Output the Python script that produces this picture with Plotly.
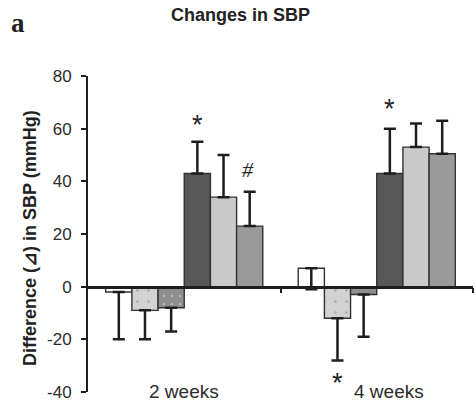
import plotly.graph_objects as go

# Groups along the x axis
categories = ["2 weeks", "4 weeks"]
group_pos = [0, 1]

# Mean change in SBP (mmHg) for each of the six groups, per time point
series_names = ["G1", "G2", "G3", "G4", "G5", "G6"]
values = {
    "G1": [-2, 7],
    "G2": [-9, -12],
    "G3": [-8, -3],
    "G4": [43, 43],
    "G5": [34, 53],
    "G6": [23, 50.5],
}
# One-sided error bars (SEM)
err_up = {
    "G1": [0, 0],
    "G2": [0, 0],
    "G3": [0, 0],
    "G4": [12, 17],
    "G5": [16, 9],
    "G6": [13, 12.5],
}
err_down = {
    "G1": [18, 8],
    "G2": [11, 16],
    "G3": [9, 16],
    "G4": [0, 0],
    "G5": [0, 0],
    "G6": [0, 0],
}

y_ticks = [-40, -20, 0, 20, 40, 60, 80]
y_ticktext = [str(v) for v in y_ticks]

styles = {
    "G1": dict(color="#ffffff"),
    "G2": dict(color="#d2d2d2", pattern=dict(shape=".", fgcolor="#7a7a7a", size=11,
                                             solidity=0.04, fillmode="overlay")),
    "G3": dict(color="#8e8e8e", pattern=dict(shape=".", fgcolor="#ffffff", size=8,
                                             solidity=0.06, fillmode="overlay")),
    "G4": dict(color="#575757"),
    "G5": dict(color="#cacaca"),
    "G6": dict(color="#9a9a9a"),
}

fig = go.Figure()
for name in series_names:
    st = styles[name]
    marker = dict(color=st["color"], line=dict(color="#333333", width=1.4))
    if "pattern" in st:
        marker["pattern"] = st["pattern"]
    fig.add_trace(go.Bar(
        x=group_pos, y=values[name], name=name, marker=marker,
        error_y=dict(type="data", symmetric=False, array=err_up[name],
                     arrayminus=err_down[name], color="#1e1e1e",
                     thickness=2.5, width=6),
        showlegend=False,
    ))

W, H = 475, 404
L, R, T, B = 88, 2, 76, 12
pw, ph = W - L - R, H - T - B


def px_x(px):
    return (px - L) / pw


def px_y(py):
    return (H - B - py) / ph


text_col = "#2b2b2b"
annotations = [
    dict(text="<b>Changes in SBP</b>", x=px_x(240), y=px_y(15), xref="paper", yref="paper",
         showarrow=False, font=dict(family="Liberation Sans", size=18, color="#222"),
         xanchor="center", yanchor="middle"),
    dict(text="<b>a</b>", x=px_x(18), y=px_y(23), xref="paper", yref="paper",
         showarrow=False, font=dict(family="Liberation Serif", size=27, color="#222"),
         xanchor="center", yanchor="middle"),
    dict(text="<b>Difference (⊿) in SBP (mmHg)</b>", x=px_x(30), y=px_y(238),
         xref="paper", yref="paper", textangle=-90, showarrow=False,
         font=dict(family="Liberation Sans", size=18, color="#222"),
         xanchor="center", yanchor="middle"),
]
# group labels under the axis
for lab, xp in zip(categories, [0.0, 1.066]):
    annotations.append(dict(text=lab, x=xp, y=-39.9, xref="x", yref="y", showarrow=False,
                            font=dict(family="Liberation Sans", size=19, color=text_col),
                            xanchor="center", yanchor="middle"))
# significance marks
for sym, xp, yp, fam, sz in [
    ("*", 0.068, 61.5, "Liberation Sans", 27),
    ("<i>#</i>", 0.33, 44.5, "Liberation Serif", 22),
    ("*", 1.068, 67.5, "Liberation Sans", 27),
    ("*", 0.796, -36.5, "Liberation Sans", 27),
]:
    annotations.append(dict(text=sym, x=xp, y=yp, xref="x", yref="y", showarrow=False,
                            font=dict(family=fam, size=sz, color="#222"),
                            xanchor="center", yanchor="middle"))

fig.update_layout(
    width=W, height=H,
    margin=dict(l=L, r=R, t=T, b=B, pad=0),
    paper_bgcolor="white", plot_bgcolor="white",
    barmode="group", bargap=0.184, bargroupgap=0,
    annotations=annotations,
    xaxis=dict(range=[-0.5, 1.5], anchor="free", position=40 / 120,
               showline=True, linecolor="#1e1e1e", linewidth=2.5,
               tickvals=[0.5, 1.5], ticks="outside", ticklen=5, tickwidth=2,
               tickcolor="#1e1e1e", showticklabels=False, showgrid=False,
               zeroline=False, fixedrange=True),
    yaxis=dict(range=[-40, 80], tickvals=y_ticks, ticktext=y_ticktext,
               showline=True, linecolor="#1e1e1e", linewidth=2,
               ticks="outside", ticklen=5, tickwidth=2, tickcolor="#1e1e1e",
               ticklabelstandoff=6,
               tickfont=dict(family="Liberation Sans", size=17, color=text_col),
               showgrid=False, zeroline=False, fixedrange=True),
)

fig.write_html("out.html")
